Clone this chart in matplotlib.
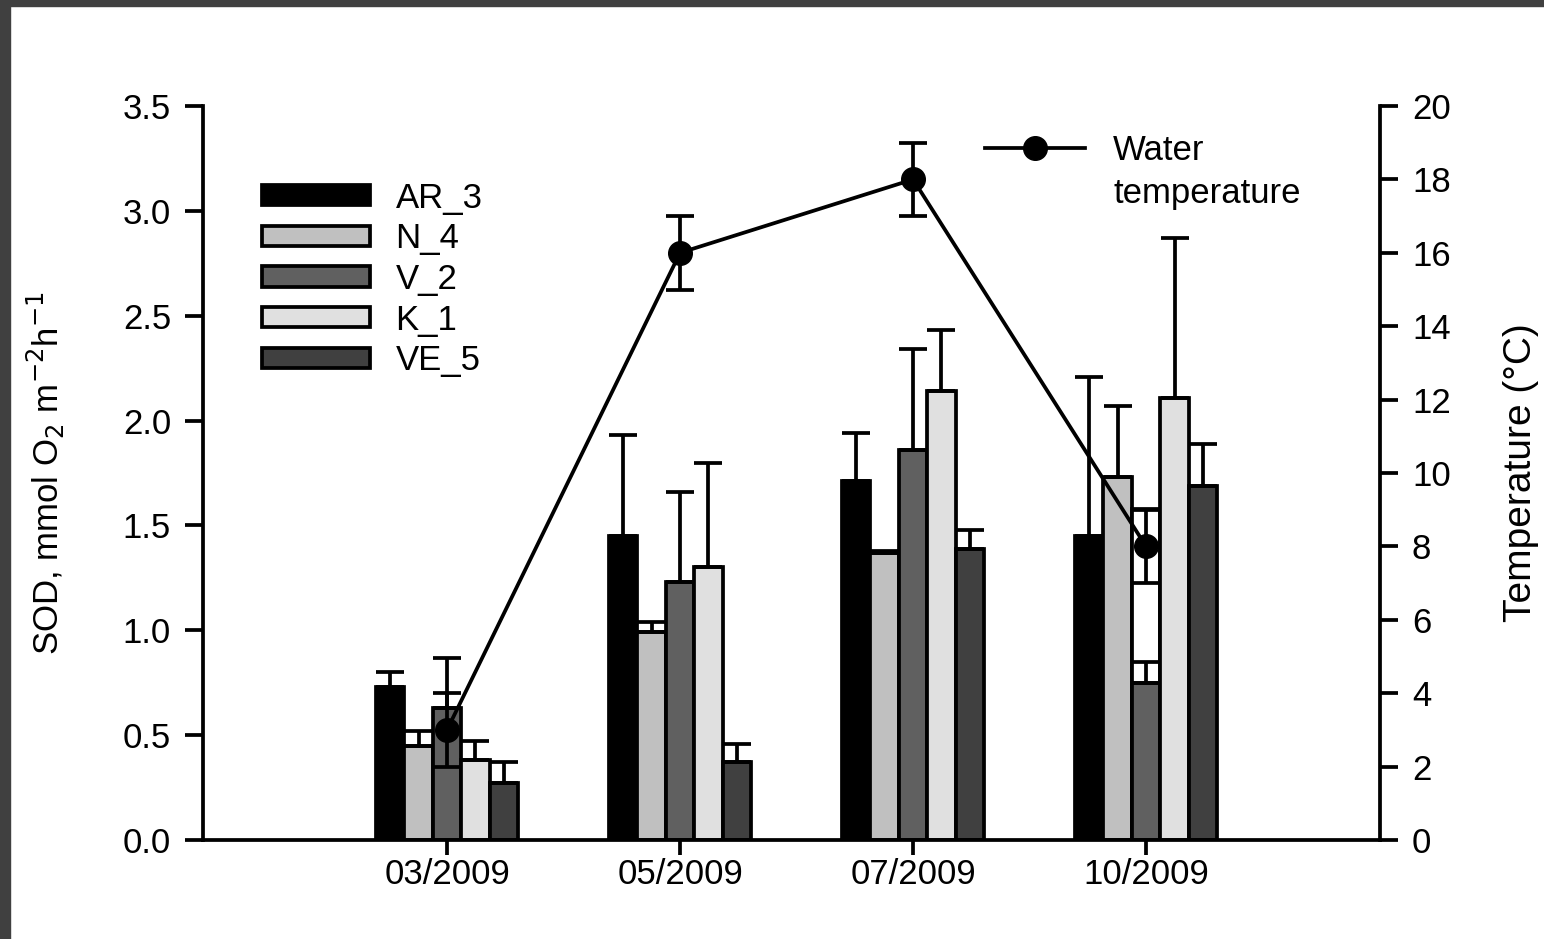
import numpy as np
import matplotlib.pyplot as plt
from matplotlib.patches import Rectangle
from matplotlib.lines import Line2D

plt.rcParams['font.family'] = ['Liberation Sans', 'DejaVu Sans']

dates = ['03/2009', '05/2009', '07/2009', '10/2009']
sites = ['AR_3', 'N_4', 'V_2', 'K_1', 'VE_5']
colors = ['#000000', '#c0c0c0', '#606060', '#e0e0e0', '#404040']

sod = {
    'AR_3': [0.73, 1.45, 1.71, 1.45],
    'N_4': [0.45, 0.99, 1.37, 1.73],
    'V_2': [0.63, 1.23, 1.86, 0.75],
    'K_1': [0.38, 1.30, 2.14, 2.11],
    'VE_5': [0.27, 0.37, 1.39, 1.69],
}
sod_err = {
    'AR_3': [0.07, 0.48, 0.23, 0.76],
    'N_4': [0.07, 0.05, 0.01, 0.34],
    'V_2': [0.24, 0.43, 0.48, 0.10],
    'K_1': [0.09, 0.50, 0.29, 0.76],
    'VE_5': [0.10, 0.09, 0.09, 0.20],
}
# empty outlined box seen behind V_2 in 10/2009
v2_box = [np.nan, np.nan, np.nan, 1.58]

temp = [3, 16, 18, 8]
temp_err = [1, 1, 1, 1]

fs = 25
lw = 2.7

fig = plt.figure(figsize=(15.44, 9.39), dpi=100)
ax = fig.add_axes([0.1315, 0.1054, 0.7623, 0.7817])
x = np.arange(len(dates))
w = 0.122

handles = []
for i, s in enumerate(sites):
    pos = x + (i - 2) * w
    if s == 'V_2':
        ax.bar(pos, v2_box, w, color='white', edgecolor='black', linewidth=lw)
    b = ax.bar(pos, sod[s], w, color=colors[i], edgecolor='black', linewidth=lw,
               yerr=[np.zeros(4), sod_err[s]], capsize=10,
               error_kw=dict(elinewidth=lw, capthick=lw, ecolor='black'))
    handles.append(b)

ax.set_xlim(-1.047, 4.004)
ax.set_ylim(0, 3.5)
ax.set_yticks(np.arange(0, 3.51, 0.5))
ax.set_yticklabels(['%.1f' % v for v in np.arange(0, 3.51, 0.5)])
ax.set_xticks(x)
ax.set_xticklabels(dates)
ax.set_ylabel('SOD, mmol O$_2$ m$^{-2}$h$^{-1}$', fontsize=fs, labelpad=40)
for side in ['top', 'right']:
    ax.spines[side].set_visible(False)
for side in ['left', 'bottom']:
    ax.spines[side].set_linewidth(lw)
ax.tick_params(axis='both', direction='out', length=13, width=lw, labelsize=fs, pad=10)
ax.tick_params(axis='x', length=11, pad=2)

ax.legend(handles, sites, loc='upper left', bbox_to_anchor=(0.050, 0.897),
          frameon=False, fontsize=fs, handlelength=3.1, handleheight=0.52,
          labelspacing=0.22, handletextpad=0.75, borderpad=0, borderaxespad=0)

ax2 = ax.twinx()
ax2.errorbar(x, temp, yerr=temp_err, color='black', linewidth=lw, marker='o',
             markersize=17, capsize=10, elinewidth=lw, capthick=lw)
ax2.set_ylim(0, 20)
ax2.set_yticks(np.arange(0, 21, 2))
ax2.set_ylabel('Temperature (°C)', fontsize=fs + 3, labelpad=38)
for side in ['top', 'left', 'bottom']:
    ax2.spines[side].set_visible(False)
ax2.spines['right'].set_linewidth(lw)
ax2.tick_params(axis='y', direction='out', length=13, width=lw, labelsize=fs, pad=10)
temp_handle = Line2D([], [], color='black', linewidth=lw, marker='o', markersize=17)
blank = Line2D([], [], linestyle='none')
ax2.legend([temp_handle, blank], ['Water', 'temperature'], loc='upper left',
           bbox_to_anchor=(0.664, 0.962), frameon=False, fontsize=fs,
           handlelength=2.9, handletextpad=0.8, labelspacing=0.3,
           borderpad=0, borderaxespad=0)

# dark frame strips along top and left edge
fig.patches.append(Rectangle((0, 1 - 6 / 939), 1, 6 / 939, transform=fig.transFigure,
                             color='#404040', zorder=10))
fig.patches.append(Rectangle((0, 0), 10 / 1544, 1, transform=fig.transFigure,
                             color='#404040', zorder=10))

fig.savefig('out.png', dpi=100)
